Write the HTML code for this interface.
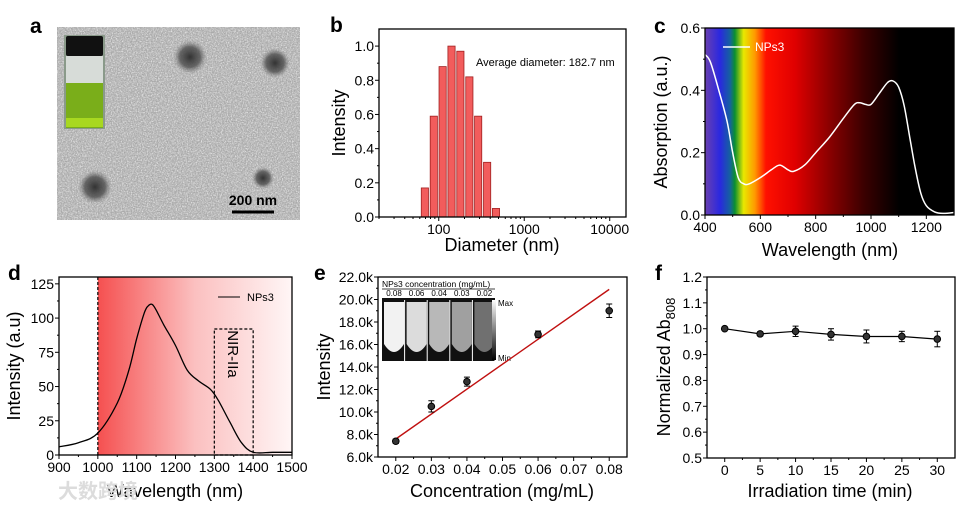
<!DOCTYPE html>
<html><head><meta charset="utf-8"><style>
html,body{margin:0;padding:0;background:#fff;}
svg{display:block;font-family:"Liberation Sans","Noto Sans CJK SC",sans-serif;}
</style></head><body>
<svg id="fig" width="977" height="511" viewBox="0 0 977 511" xmlns="http://www.w3.org/2000/svg">
<defs>
<filter id="noise" x="0" y="0" width="100%" height="100%"><feTurbulence type="fractalNoise" baseFrequency="0.8" numOctaves="2" seed="3"/><feColorMatrix type="matrix" values="0 0 0 0 1  0 0 0 0 1  0 0 0 0 1  1.6 0 0 0 -0.6"/></filter>
<filter id="noise2" x="0" y="0" width="100%" height="100%"><feTurbulence type="fractalNoise" baseFrequency="0.7" numOctaves="2" seed="9"/><feColorMatrix type="matrix" values="0 0 0 0 0.3  0 0 0 0 0.3  0 0 0 0 0.3  1.6 0 0 0 -0.65"/></filter>
<radialGradient id="blob"><stop offset="0" stop-color="#333"/><stop offset="0.6" stop-color="#555" stop-opacity="0.85"/><stop offset="1" stop-color="#888" stop-opacity="0"/></radialGradient>
<linearGradient id="spec" x1="0" x2="1" y1="0" y2="0">
<stop offset="0" stop-color="#6a40b0"/><stop offset="0.06" stop-color="#2a28e0"/><stop offset="0.1" stop-color="#1560a0"/><stop offset="0.12" stop-color="#0a9030"/><stop offset="0.155" stop-color="#e8e800"/><stop offset="0.2" stop-color="#ff9a00"/><stop offset="0.245" stop-color="#ff1000"/><stop offset="0.36" stop-color="#e00000"/><stop offset="0.5" stop-color="#8a0000"/><stop offset="0.64" stop-color="#3a0000"/><stop offset="0.78" stop-color="#000"/><stop offset="1" stop-color="#000"/></linearGradient>
<linearGradient id="pink" x1="0" x2="1" y1="0" y2="0"><stop offset="0" stop-color="#f55050"/><stop offset="0.5" stop-color="#fbc0c0"/><stop offset="1" stop-color="#fff6f6"/></linearGradient>
<linearGradient id="cbar" x1="0" x2="0" y1="0" y2="1"><stop offset="0" stop-color="#fff"/><stop offset="1" stop-color="#000"/></linearGradient>
</defs>
<g id="g"></g>
</svg>
<script>
// ---------- data ----------
const bDiam = [68.8, 87.5, 111, 141, 179, 228, 289, 368, 467];
const bInt = [0.17, 0.59, 0.88, 1.0, 0.97, 0.82, 0.59, 0.32, 0.05];
const cWave = [400,420,450,480,500,520,540,560,600,640,670,700,720,760,800,850,900,940,960,980,1000,1030,1060,1080,1100,1120,1140,1160,1180,1200,1230,1260,1300];
const cAbs = [0.515,0.49,0.40,0.30,0.20,0.12,0.10,0.10,0.12,0.145,0.16,0.145,0.14,0.16,0.20,0.25,0.31,0.355,0.36,0.355,0.355,0.39,0.425,0.43,0.41,0.35,0.25,0.15,0.07,0.03,0.01,0.005,0.008];
const dWave = [900,950,1000,1050,1080,1100,1120,1130,1140,1150,1170,1200,1230,1260,1290,1310,1340,1370,1400,1450,1500];
const dInt = [6,9,16,38,62,85,104,109,110,106,95,80,62,54,48,40,24,9,2,2,2];
const eConc = [0.02,0.03,0.04,0.06,0.08];
const eInt = [7.4,10.5,12.7,16.9,19.0];
const eErr = [0.2,0.5,0.4,0.3,0.6];
const eFit = [7.6,20.9];
const eTubes = ['0.08','0.06','0.04','0.03','0.02'];
const fTime = [0,5,10,15,20,25,30];
const fVal = [1.0,0.98,0.99,0.978,0.97,0.97,0.96];
const fErr = [0.005,0.008,0.02,0.022,0.025,0.02,0.03];

const NS='http://www.w3.org/2000/svg';
const root=document.getElementById('g');
function el(t,a,p){const e=document.createElementNS(NS,t);for(const k in a)e.setAttribute(k,a[k]);(p||root).appendChild(e);return e;}
function txt(s,a,p){const e=el('text',a,p);e.textContent=s;return e;}
function lin(d0,d1,r0,r1){return v=>r0+(v-d0)*(r1-r0)/(d1-d0);}
function logs(d0,d1,r0,r1){return v=>r0+(Math.log10(v)-Math.log10(d0))*(r1-r0)/(Math.log10(d1)-Math.log10(d0));}

function frame(name,L,R,T,B){
  const r=el('rect',{x:L,y:T,width:R-L,height:B-T,fill:'none',stroke:'#000','stroke-width':1.3});
  
  
}
function yTicks(name,vals,labels,sy,L,minor){
  const g=el('g',{});
  
  
  vals.forEach((v,i)=>{el('line',{x1:L-4,x2:L,y1:sy(v),y2:sy(v),stroke:'#000'},g);
    const t=txt(labels[i],{x:L-5,y:sy(v)+5,'text-anchor':'end','font-size':14},g);
    
    });
  (minor||[]).forEach(v=>el('line',{x1:L-2,x2:L,y1:sy(v),y2:sy(v),stroke:'#000'},g));
}
function xTicks(name,vals,labels,sx,B,minor){
  const g=el('g',{});
  
  
  vals.forEach((v,i)=>{el('line',{x1:sx(v),x2:sx(v),y1:B,y2:B+4,stroke:'#000'},g);
    const t=txt(labels[i],{x:sx(v),y:B+17,'text-anchor':'middle','font-size':14},g);
    
    });
  (minor||[]).forEach(v=>el('line',{x1:sx(v),x2:sx(v),y1:B,y2:B+2,stroke:'#000'},g));
}
function title(s,x,y,rot,name){
  const t=txt(s,{x:x,y:y,'text-anchor':'middle','font-size':18,transform:rot?`rotate(-90 ${x} ${y})`:''});
  
  
  return t;
}
function plabel(s,x,y){
  const t=txt(s,{x:x,y:y,'font-size':21,'font-weight':'bold'});
  
  
}
function pathFrom(xs,ys,sx,sy){return xs.map((v,i)=>(i?'L':'M')+sx(v).toFixed(1)+','+sy(ys[i]).toFixed(1)).join('');}
function smoothPath(xs,ys,sx,sy){
  const P=xs.map((v,i)=>[sx(v),sy(ys[i])]);
  let d='M'+P[0][0].toFixed(1)+','+P[0][1].toFixed(1);
  for(let i=0;i<P.length-1;i++){
    const p0=P[i-1]||P[i],p1=P[i],p2=P[i+1],p3=P[i+2]||P[i+1];
    const c1=[p1[0]+(p2[0]-p0[0])/6,p1[1]+(p2[1]-p0[1])/6];
    const c2=[p2[0]-(p3[0]-p1[0])/6,p2[1]-(p3[1]-p1[1])/6];
    d+=`C${c1[0].toFixed(1)},${c1[1].toFixed(1)} ${c2[0].toFixed(1)},${c2[1].toFixed(1)} ${p2[0].toFixed(1)},${p2[1].toFixed(1)}`;
  }
  return d;
}

// ---------- panel a ----------
(function(){
  const g=el('g',{});
  
  
  el('rect',{x:57,y:27,width:243,height:193,fill:'#b4b4b4'},g);
  el('rect',{x:57,y:27,width:243,height:193,fill:'#fff',filter:'url(#noise)'},g);
  el('rect',{x:57,y:27,width:243,height:193,fill:'#000',filter:'url(#noise2)'},g);
  [[190,57,17],[275,63,15],[95,187,17],[263,178,11]].forEach(c=>el('circle',{cx:c[0],cy:c[1],r:c[2],fill:'url(#blob)'},g));
  const v=el('g',{},g);
  
  
  el('rect',{x:64,y:35,width:41,height:94,fill:'#8a9a8a'},v);
  el('rect',{x:66,y:56,width:37,height:28,fill:'#d7dcd8'},v);
  el('rect',{x:66,y:83,width:37,height:45,fill:'#7aae1a'},v);
  el('rect',{x:66,y:118,width:37,height:9,fill:'#a8d820'},v);
  el('rect',{x:66,y:36,width:37,height:20,rx:2,fill:'#111'},v);
  const sb=el('line',{x1:232,x2:274,y1:212,y2:212,stroke:'#000','stroke-width':3});
  
  
  const st=txt('200 nm',{x:253,y:205,'text-anchor':'middle','font-size':14,'font-weight':'bold'});
  
  
  plabel('a',30,33);
})();

// ---------- panel b ----------
(function(){
  const L=379,R=626,T=29,B=217;
  const sx=logs(20,15500,L,R), sy=lin(0,1.1,B,T);
  bDiam.forEach((d,i)=>{const r=el('rect',{x:sx(d)-3.6,y:sy(bInt[i]),width:7.2,height:sy(0)-sy(bInt[i]),fill:'#f25c5c',stroke:'#a02020','stroke-width':0.8});
    
    });
  frame('dls',L,R,T,B);
  yTicks('dls',[0,0.2,0.4,0.6,0.8,1.0],['0.0','0.2','0.4','0.6','0.8','1.0'],sy,L,[0.1,0.3,0.5,0.7,0.9]);
  const mn=[];[10,100,1000,10000].forEach(b=>{for(let k=2;k<10;k++){const v=b*k;if(v>=20&&v<=15500)mn.push(v);}});
  xTicks('dls',[100,1000,10000],['100','1000','10000'],sx,B,mn);
  const a=txt('Average diameter: 182.7 nm',{x:476,y:66,'font-size':11});
  
  
  title('Intensity',345,123,true,'y-axis-title-b');
  title('Diameter (nm)',502,251,false,'x-axis-title-b');
  plabel('b',330,32);
})();

// ---------- panel c ----------
(function(){
  const L=705,R=954,T=28,B=215;
  const sx=lin(400,1300,L,R), sy=lin(0,0.6,B,T);
  const bg=el('rect',{x:L,y:T,width:R-L,height:B-T,fill:'url(#spec)'});
  
  
  const p=el('path',{d:smoothPath(cWave,cAbs,sx,sy),fill:'none',stroke:'#fff','stroke-width':1.5});
  
  
  el('line',{x1:723,x2:750,y1:47,y2:47,stroke:'#fff','stroke-width':1.5});
  const lt=txt('NPs3',{x:755,y:51,fill:'#fff','font-size':12});
  
  
  frame('abs',L,R,T,B);
  yTicks('abs',[0,0.2,0.4,0.6],['0.0','0.2','0.4','0.6'],sy,L,[0.1,0.3,0.5]);
  xTicks('abs',[400,600,800,1000,1200],['400','600','800','1000','1200'],sx,B,[500,700,900,1100]);
  title('Absorption (a.u.)',667,122,true,'y-axis-title-c');
  title('Wavelength (nm)',830,256,false,'x-axis-title-c');
  plabel('c',654,33);
})();

// ---------- panel d ----------
(function(){
  const L=59,R=292,T=277,B=455;
  const sx=lin(900,1500,L,R), sy=lin(0,130,B,T);
  const bg=el('rect',{x:sx(1000),y:T,width:R-sx(1000),height:B-T,fill:'url(#pink)'});
  
  
  el('line',{x1:sx(1000),x2:sx(1000),y1:T,y2:B,stroke:'#000','stroke-dasharray':'3,2','stroke-width':1.2});
  const bx=el('rect',{x:sx(1300),y:sy(92),width:sx(1400)-sx(1300),height:sy(0)-sy(92),fill:'none',stroke:'#000','stroke-dasharray':'3,2','stroke-width':1.2});
  
  
  const nt=txt('NIR-IIa',{x:228,y:354,'font-size':15,'text-anchor':'middle',transform:'rotate(90 228 354)'});
  
  
  const p=el('path',{d:smoothPath(dWave,dInt,sx,sy),fill:'none',stroke:'#000','stroke-width':1.3});
  
  
  el('line',{x1:218,x2:240,y1:297,y2:297,stroke:'#000'});
  const lt=txt('NPs3',{x:247,y:301,'font-size':11});
  
  
  frame('emission',L,R,T,B);
  yTicks('emission',[0,25,50,75,100,125],['0','25','50','75','100','125'],sy,L,[12.5,37.5,62.5,87.5,112.5]);
  xTicks('emission',[900,1000,1100,1200,1300,1400,1500],['900','1000','1100','1200','1300','1400','1500'],sx,B,[950,1050,1150,1250,1350,1450]);
  title('Intensity (a.u)',20,366,true,'y-axis-title-d');
  title('Wavelength (nm)',175,497,false,'x-axis-title-d');
  plabel('d',8,280);
  const w=txt('大数跨境',{x:58,y:498,'font-size':20,fill:'#dcdcdc','font-weight':'bold'});
  
  
})();

// ---------- panel e ----------
(function(){
  const L=378,R=627,T=277,B=457;
  const sx=lin(0.015,0.085,L,R), sy=lin(6,22,B,T);
  frame('conc',L,R,T,B);
  const ins=el('g',{});
  
  
  el('rect',{x:382,y:298,width:113,height:63,fill:'#111'},ins);
  const bright=['#f2f2f2','#dcdcdc','#b8b8b8','#a0a0a0','#707070'];
  eTubes.forEach((s,i)=>{const x=383+i*22.6;
    el('path',{d:`M${x+1},302 h20 v42 q-10,16 -20,0 z`,fill:bright[i]},ins);
    el('line',{x1:x+21.6,x2:x+21.6,y1:300,y2:361,stroke:'#fff','stroke-width':1},ins);
    const t=txt(s,{x:x+11,y:296,'font-size':8,'text-anchor':'middle'},ins);
    
    });
  el('rect',{x:492,y:300,width:4,height:60,fill:'url(#cbar)'},ins);
  txt('NPs3 concentration (mg/mL)',{x:382,y:287,'font-size':8.5},ins);
  el('line',{x1:382,x2:495,y1:289,y2:289,stroke:'#000','stroke-width':0.7},ins);
  txt('Max',{x:498,y:306,'font-size':8},ins);
  txt('Min',{x:498,y:361,'font-size':8},ins);
  const fl=el('line',{x1:sx(eConc[0]),y1:sy(eFit[0]),x2:sx(eConc[eConc.length-1]),y2:sy(eFit[1]),stroke:'#c01010','stroke-width':1.4});
  
  
  eConc.forEach((c,i)=>{const g=el('g',{});
    
    
    const x=sx(c);
    el('line',{x1:x,x2:x,y1:sy(eInt[i]+eErr[i]),y2:sy(eInt[i]-eErr[i]),stroke:'#000'},g);
    el('line',{x1:x-3,x2:x+3,y1:sy(eInt[i]+eErr[i]),y2:sy(eInt[i]+eErr[i]),stroke:'#000'},g);
    el('line',{x1:x-3,x2:x+3,y1:sy(eInt[i]-eErr[i]),y2:sy(eInt[i]-eErr[i]),stroke:'#000'},g);
    el('circle',{cx:x,cy:sy(eInt[i]),r:3.3,fill:'#333',stroke:'#000'},g);});
  yTicks('conc',[6,8,10,12,14,16,18,20,22],['6.0k','8.0k','10.0k','12.0k','14.0k','16.0k','18.0k','20.0k','22.0k'],sy,L,[7,9,11,13,15,17,19,21]);
  xTicks('conc',[0.02,0.03,0.04,0.05,0.06,0.07,0.08],['0.02','0.03','0.04','0.05','0.06','0.07','0.08'],sx,B,[0.025,0.035,0.045,0.055,0.065,0.075]);
  title('Intensity',330,367,true,'y-axis-title-e');
  title('Concentration (mg/mL)',502,497,false,'x-axis-title-e');
  plabel('e',314,280);
})();

// ---------- panel f ----------
(function(){
  const L=707,R=955,T=277,B=458;
  const sx=lin(-2.5,32.5,L,R), sy=lin(0.5,1.2,B,T);
  frame('stability',L,R,T,B);
  const p=el('path',{d:pathFrom(fTime,fVal,sx,sy),fill:'none',stroke:'#000','stroke-width':1.2});
  
  
  fTime.forEach((t,i)=>{const g=el('g',{});
    
    
    const x=sx(t);
    el('line',{x1:x,x2:x,y1:sy(fVal[i]+fErr[i]),y2:sy(fVal[i]-fErr[i]),stroke:'#000'},g);
    el('line',{x1:x-3,x2:x+3,y1:sy(fVal[i]+fErr[i]),y2:sy(fVal[i]+fErr[i]),stroke:'#000'},g);
    el('line',{x1:x-3,x2:x+3,y1:sy(fVal[i]-fErr[i]),y2:sy(fVal[i]-fErr[i]),stroke:'#000'},g);
    el('circle',{cx:x,cy:sy(fVal[i]),r:3.3,fill:'#333',stroke:'#000'},g);});
  yTicks('stability',[0.5,0.6,0.7,0.8,0.9,1.0,1.1,1.2],['0.5','0.6','0.7','0.8','0.9','1.0','1.1','1.2'],sy,L,[0.55,0.65,0.75,0.85,0.95,1.05,1.15]);
  xTicks('stability',fTime,fTime.map(String),sx,B,[2.5,7.5,12.5,17.5,22.5,27.5]);
  const t=txt('',{x:670,y:367,'text-anchor':'middle','font-size':18,transform:'rotate(-90 670 367)'});
  
  
  const s1=document.createElementNS(NS,'tspan');s1.textContent='Normalized Ab';t.appendChild(s1);
  const s2=document.createElementNS(NS,'tspan');s2.textContent='808';s2.setAttribute('font-size','13');s2.setAttribute('dy','5');t.appendChild(s2);
  title('Irradiation time (min)',830,497,false,'x-axis-title-f');
  plabel('f',655,280);
})();
</script>
</body></html>
